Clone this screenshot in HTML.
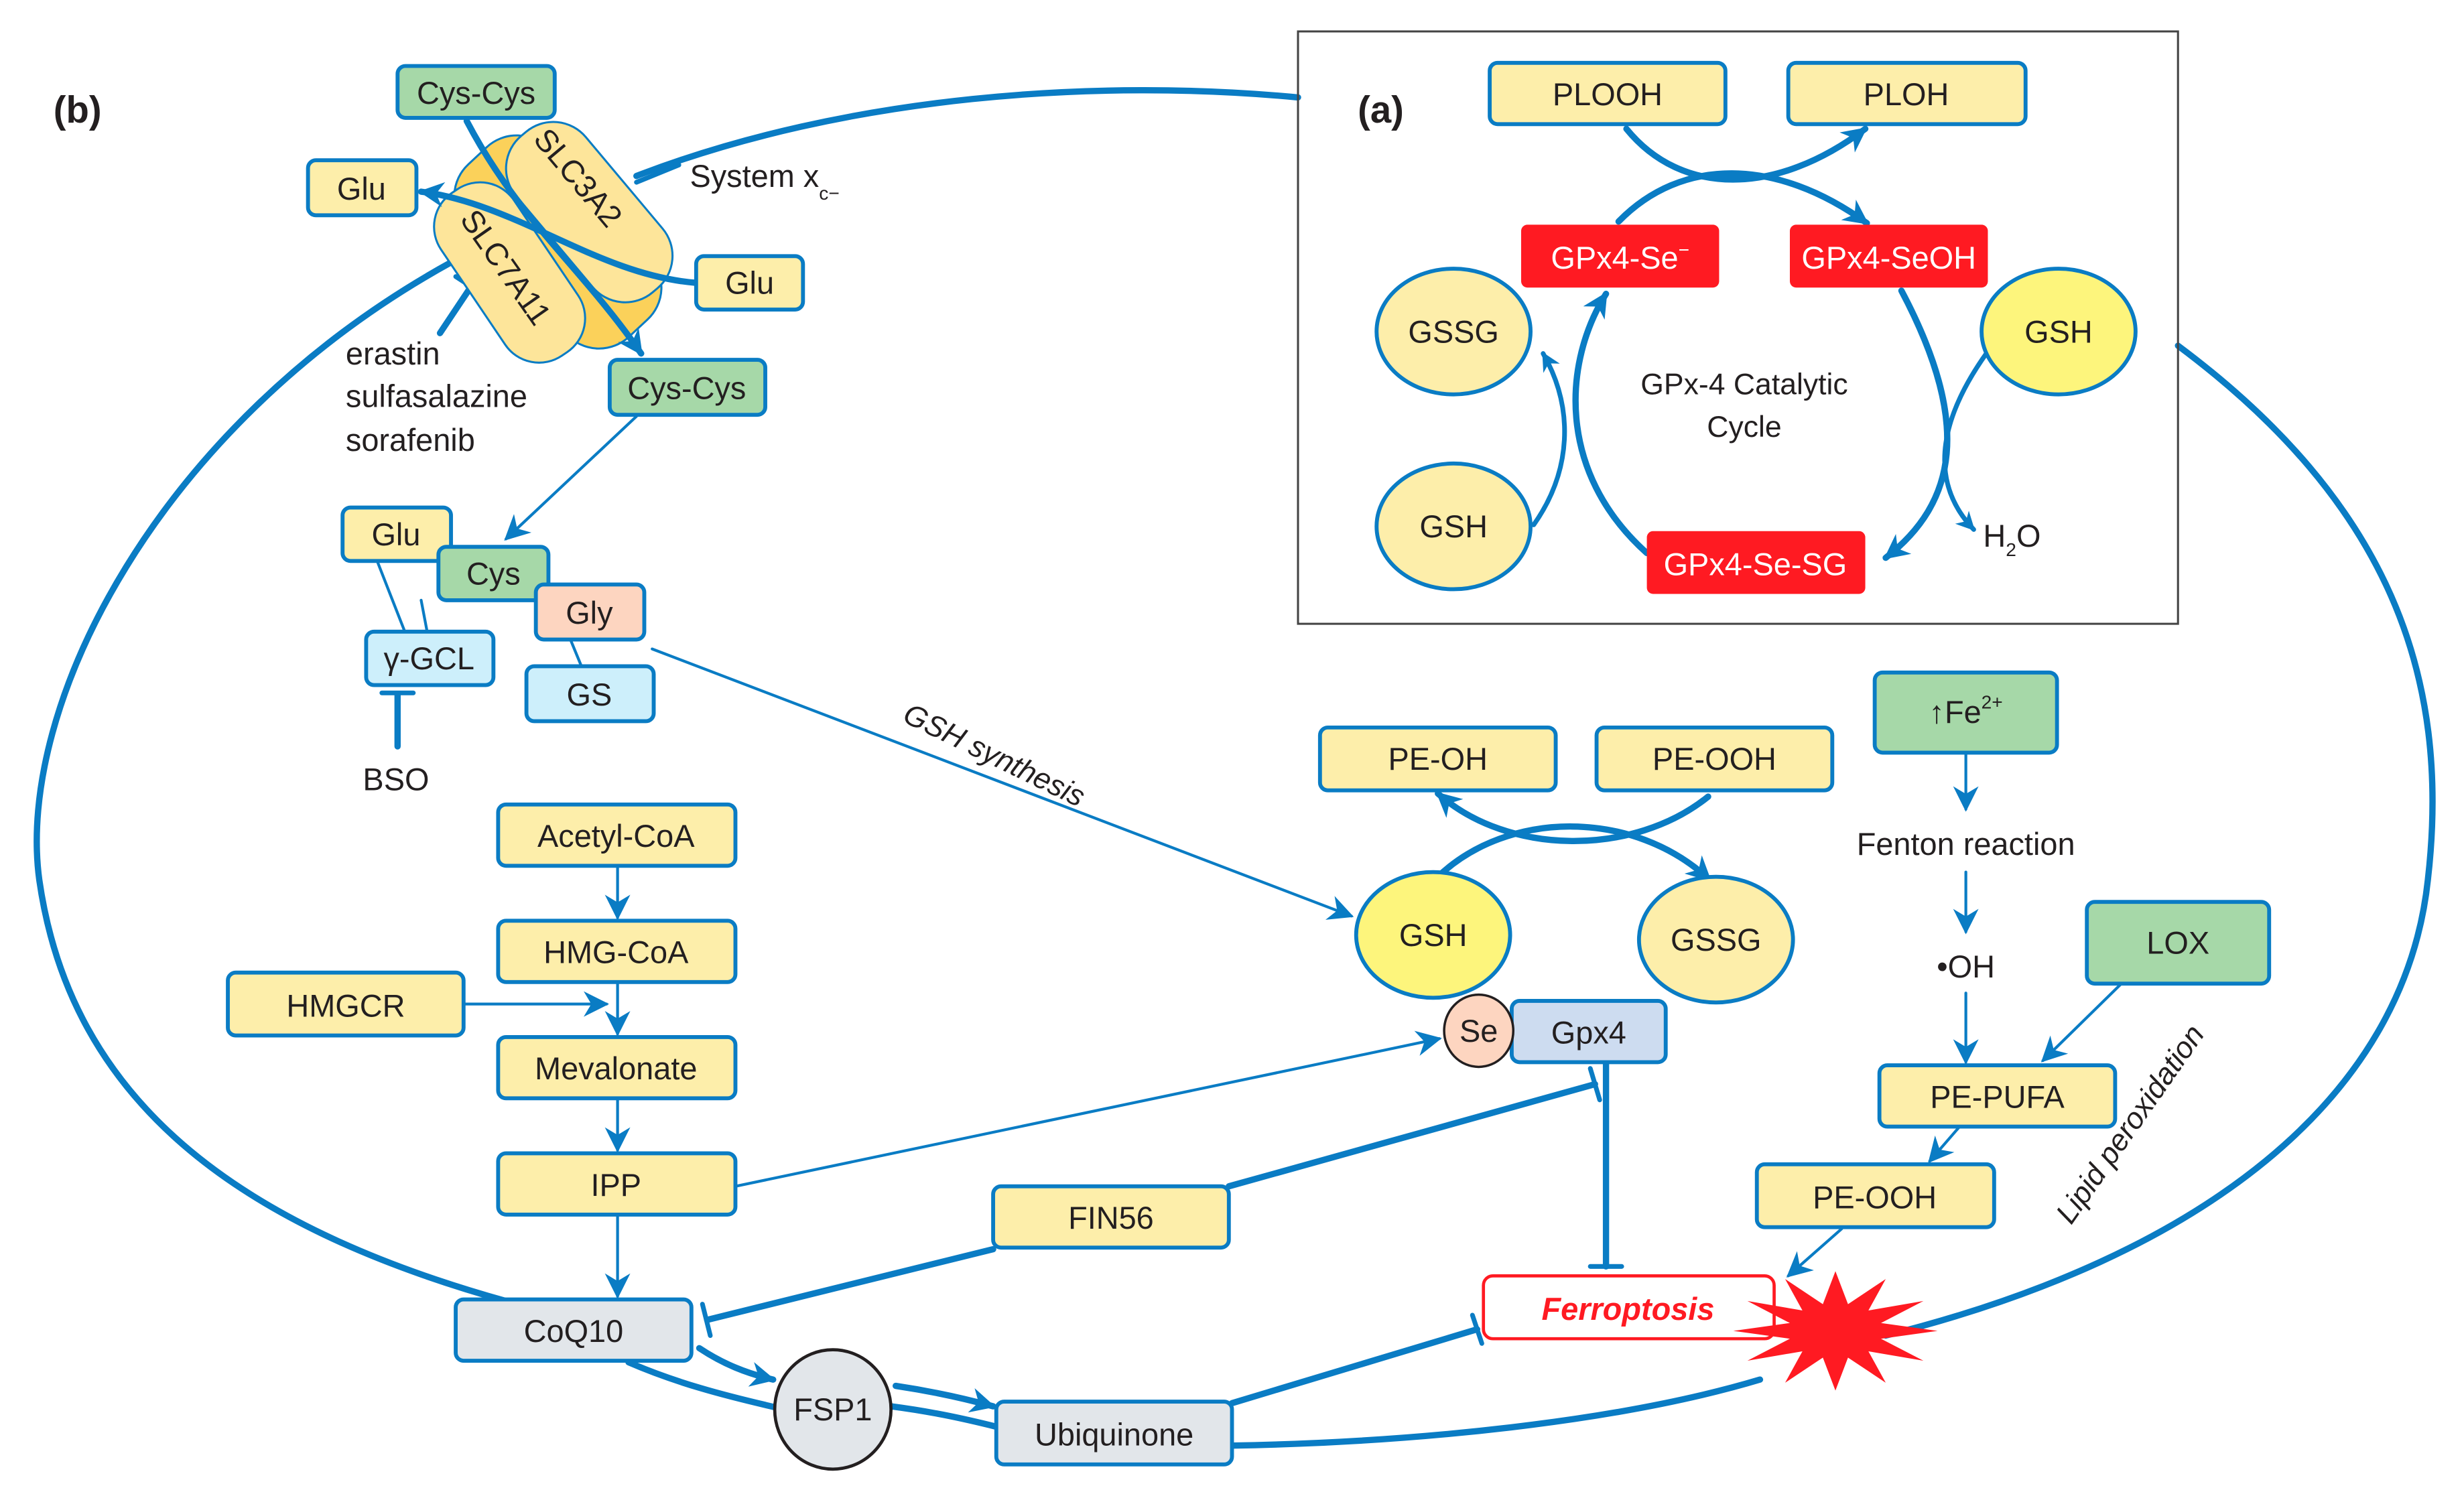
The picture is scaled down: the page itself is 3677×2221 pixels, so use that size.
<!DOCTYPE html>
<html><head><meta charset="utf-8"><style>
html,body{margin:0;padding:0;background:#fff}
svg{display:block}
text{font-family:"Liberation Sans",sans-serif;fill:#231f20}
</style></head><body>
<svg width="3677" height="2221" viewBox="0 0 1568 947" preserveAspectRatio="none" xmlns="http://www.w3.org/2000/svg">
<defs>
<marker id="a" viewBox="0 0 10 10" refX="9" refY="5" markerWidth="4" markerHeight="4" orient="auto" markerUnits="strokeWidth"><path d="M0,0 L10,5 L0,10 L3,5 z" fill="#0a7cc4"/></marker>
<marker id="as" viewBox="0 0 10 10" refX="9" refY="5" markerWidth="9" markerHeight="9" orient="auto" markerUnits="strokeWidth"><path d="M0,0 L10,5 L0,10 L3,5 z" fill="#0a7cc4"/></marker>
</defs>
<g fill="none" stroke="#0a7cc4" stroke-linecap="round">
<path d="M826,62 C700,50 540,60 405,112" stroke-width="4"/>
<path d="M287,167 C100,270 10,450 25,560 C45,700 150,780 322,828" stroke-width="4"/>
<path d="M1386,220 C1520,320 1560,430 1545,560 C1530,700 1400,800 1200,850" stroke-width="4"/>
<path d="M784,920 C900,918 1030,905 1120,878" stroke-width="4"/>
<path d="M400,867 C430,880 460,888 495,896" stroke-width="4"/>
<path d="M445,858 C460,868 475,874 492,878" stroke-width="4" marker-end="url(#a)"/>
<path d="M567,895 C590,898 610,902 634,908" stroke-width="4"/>
<path d="M570,882 C590,885 610,889 632,895" stroke-width="4" marker-end="url(#a)"/>
<path d="M784,893 L940,846" stroke-width="4"/><path d="M937,837 L943,855" stroke-width="3"/>
<path d="M632,795 L450,840" stroke-width="4"/><path d="M447,830 L452,850" stroke-width="3"/>
<path d="M782,755 L1015,690" stroke-width="4"/><path d="M1012,680 L1018,700" stroke-width="3"/>
<path d="M1022,676 L1022,806" stroke-width="4"/><path d="M1012,806 L1032,806" stroke-width="3"/>
<path d="M280,212 L300,182" stroke-width="4"/><path d="M290,176 L310,189" stroke-width="3"/>
<path d="M253,475 L253,442" stroke-width="4"/><path d="M243,441 L263,441" stroke-width="3"/>
<path d="M468,755 L916,661" stroke-width="1.8" marker-end="url(#as)"/>
<path d="M415,413 L860,583" stroke-width="1.8" marker-end="url(#as)"/>
<path d="M405,265 L322,343" stroke-width="1.8" marker-end="url(#as)"/>
<path d="M393,551 L393,584" stroke-width="1.8" marker-end="url(#as)"/>
<path d="M393,625 L393,658" stroke-width="1.8" marker-end="url(#as)"/>
<path d="M295,639 L386,639" stroke-width="1.8" marker-end="url(#as)"/>
<path d="M393,699 L393,732" stroke-width="1.8" marker-end="url(#as)"/>
<path d="M393,773 L393,825" stroke-width="1.8" marker-end="url(#as)"/>
<path d="M1251,480 L1251,515" stroke-width="1.8" marker-end="url(#as)"/>
<path d="M1251,555 L1251,593" stroke-width="1.8" marker-end="url(#as)"/>
<path d="M1251,632 L1251,676" stroke-width="1.8" marker-end="url(#as)"/>
<path d="M1350,626 L1300,675" stroke-width="1.8" marker-end="url(#as)"/>
<path d="M1247,717 L1228,739" stroke-width="1.8" marker-end="url(#as)"/>
<path d="M1172,782 L1138,812" stroke-width="1.8" marker-end="url(#as)"/>
<path d="M240,357 L258,403 M268,382 L272,403 M363,407 L370,424" stroke-width="1.8"/>
<path d="M915,558 C960,515 1040,515 1088,560" stroke-width="4" marker-end="url(#a)"/>
<path d="M1087,507 C1040,545 960,545 915,505" stroke-width="4" marker-end="url(#a)"/>
<path d="M1035,82 C1070,125 1130,125 1187,82" stroke-width="4" marker-end="url(#a)"/>
<path d="M1030,141 C1070,100 1130,100 1188,142" stroke-width="4" marker-end="url(#a)"/>
<path d="M1210,185 C1255,270 1245,320 1200,355" stroke-width="4" marker-end="url(#a)"/>
<path d="M1264,225 C1225,280 1235,315 1256,337" stroke-width="3" marker-end="url(#a)"/>
<path d="M1048,352 C990,300 995,230 1022,187" stroke-width="4" marker-end="url(#a)"/>
<path d="M976,334 C1000,300 1002,260 982,225" stroke-width="3" marker-end="url(#a)"/>
</g>
<g stroke="#0a7cc4" stroke-width="1.3">
<rect x="280" y="118" width="150" height="72" rx="28" fill="#fbd15a" transform="rotate(47 355 154)"/>
<rect x="310" y="106" width="130" height="58" rx="27" fill="#fde59a" transform="rotate(50 375 135)"/>
<rect x="262" y="145" width="125" height="56" rx="26" fill="#fde59a" transform="rotate(56 324 173)"/>
</g>
<g fill="none" stroke="#0a7cc4" stroke-linecap="round">
<path d="M297,77 C330,140 370,170 408,225" stroke-width="4" marker-end="url(#a)"/>
<path d="M443,180 C380,175 330,130 268,122" stroke-width="4" marker-end="url(#a)"/>
<path d="M432,105 L405,116" stroke-width="3"/>
</g>
<text x="368" y="120" font-size="20" text-anchor="middle" transform="rotate(50 368 113)">SLC3A2</text>
<text x="322" y="177" font-size="20" text-anchor="middle" transform="rotate(55 322 170)">SLC7A11</text>
<rect x="826" y="20" width="560" height="377" fill="none" stroke="#444" stroke-width="1.3"/>
<g stroke="#0a7cc4" stroke-width="2.5">
<rect x="948" y="40" width="150" height="39" rx="5" fill="#fdeeaa"/>
<rect x="1138" y="40" width="151" height="39" rx="5" fill="#fdeeaa"/>
<ellipse cx="925" cy="211" rx="49" ry="40" fill="#fdeeaa"/>
<ellipse cx="1310" cy="211" rx="49" ry="40" fill="#fdf57c"/>
<ellipse cx="925" cy="335" rx="49" ry="40" fill="#fdeeaa"/>
<rect x="253" y="42" width="100" height="33" rx="5" fill="#a6d8a8"/>
<rect x="196" y="102" width="69" height="35" rx="5" fill="#fdeeaa"/>
<rect x="443" y="163" width="68" height="34" rx="5" fill="#fdeeaa"/>
<rect x="388" y="229" width="99" height="35" rx="5" fill="#a6d8a8"/>
<rect x="218" y="323" width="69" height="34" rx="5" fill="#fdeeaa"/>
<rect x="279" y="348" width="70" height="34" rx="5" fill="#a6d8a8"/>
<rect x="341" y="372" width="69" height="35" rx="5" fill="#fdd5c0"/>
<rect x="233" y="402" width="81" height="34" rx="5" fill="#cdeffb"/>
<rect x="335" y="424" width="81" height="35" rx="5" fill="#cdeffb"/>
<rect x="317" y="512" width="151" height="39" rx="5" fill="#fdeeaa"/>
<rect x="317" y="586" width="151" height="39" rx="5" fill="#fdeeaa"/>
<rect x="145" y="619" width="150" height="40" rx="5" fill="#fdeeaa"/>
<rect x="317" y="660" width="151" height="39" rx="5" fill="#fdeeaa"/>
<rect x="317" y="734" width="151" height="39" rx="5" fill="#fdeeaa"/>
<rect x="632" y="755" width="150" height="39" rx="5" fill="#fdeeaa"/>
<rect x="290" y="827" width="150" height="39" rx="5" fill="#e2e6ea"/>
<rect x="634" y="892" width="150" height="40" rx="5" fill="#e2e6ea"/>
<rect x="840" y="463" width="150" height="40" rx="5" fill="#fdeeaa"/>
<rect x="1016" y="463" width="150" height="40" rx="5" fill="#fdeeaa"/>
<ellipse cx="912" cy="595" rx="49" ry="40" fill="#fdf57c"/>
<ellipse cx="1092" cy="598" rx="49" ry="40" fill="#fdeeaa"/>
<rect x="962" y="637" width="98" height="39" rx="5" fill="#cddcf0"/>
<rect x="1193" y="428" width="116" height="51" rx="5" fill="#a6d8a8"/>
<rect x="1328" y="574" width="116" height="52" rx="5" fill="#a6d8a8"/>
<rect x="1196" y="678" width="150" height="39" rx="5" fill="#fdeeaa"/>
<rect x="1118" y="741" width="151" height="40" rx="5" fill="#fdeeaa"/>
</g>
<ellipse cx="941" cy="656" rx="22" ry="23" fill="#fdd5c0" stroke="#231f20" stroke-width="1.5"/>
<ellipse cx="530" cy="897" rx="37" ry="38" fill="#e2e6ea" stroke="#231f20" stroke-width="2"/>
<rect x="968" y="143" width="126" height="40" rx="4" fill="#ff1a22"/>
<rect x="1139" y="143" width="126" height="40" rx="4" fill="#ff1a22"/>
<rect x="1048" y="338" width="139" height="40" rx="4" fill="#ff1a22"/>
<rect x="944" y="812" width="185" height="40" rx="6" fill="#fff" stroke="#ff1a22" stroke-width="2"/>
<polygon fill="#ff1a22" points="1233,847 1197,852 1224,866 1189,860 1200,880 1176,864 1168,885 1160,864 1136,880 1147,860 1112,866 1139,852 1103,847 1139,842 1112,828 1147,834 1136,814 1160,830 1168,809 1176,830 1200,814 1189,834 1224,828 1197,842"/>
<g font-size="20" text-anchor="middle">
<text x="1023" y="67">PLOOH</text><text x="1213" y="67">PLOH</text>
<text x="925" y="218">GSSG</text><text x="1310" y="218">GSH</text><text x="925" y="342">GSH</text>
<text x="303" y="66">Cys-Cys</text><text x="230" y="127">Glu</text><text x="477" y="187">Glu</text>
<text x="437" y="254">Cys-Cys</text><text x="252" y="347">Glu</text><text x="314" y="372">Cys</text>
<text x="375" y="397">Gly</text><text x="273" y="426">γ-GCL</text><text x="375" y="449">GS</text>
<text x="392" y="539">Acetyl-CoA</text><text x="392" y="613">HMG-CoA</text><text x="220" y="647">HMGCR</text>
<text x="392" y="687">Mevalonate</text><text x="392" y="761">IPP</text><text x="707" y="782">FIN56</text>
<text x="365" y="854">CoQ10</text><text x="530" y="904">FSP1</text><text x="709" y="920">Ubiquinone</text>
<text x="915" y="490">PE-OH</text><text x="1091" y="490">PE-OOH</text>
<text x="912" y="602">GSH</text><text x="1092" y="605">GSSG</text>
<text x="941" y="663">Se</text><text x="1011" y="664">Gpx4</text>
<text x="1251" y="460">↑Fe<tspan font-size="12" dy="-9">2+</tspan></text>
<text x="1251" y="544">Fenton reaction</text><text x="1251" y="622">•OH</text>
<text x="1386" y="607">LOX</text><text x="1271" y="705">PE-PUFA</text><text x="1193" y="769">PE-OOH</text>
<text x="252" y="503">BSO</text>
<text x="1110" y="251" font-size="19">GPx-4 Catalytic</text><text x="1110" y="278" font-size="19">Cycle</text>
</g>
<g font-size="20" text-anchor="middle">
<text x="1031" y="171" style="fill:#fff">GPx4-Se<tspan font-size="12" dy="-8" style="fill:#fff">−</tspan></text>
<text x="1202" y="171" style="fill:#fff">GPx4-SeOH</text>
<text x="1117" y="366" style="fill:#fff">GPx4-Se-SG</text>
</g>
<text x="1036" y="840" font-size="20" font-weight="bold" font-style="italic" text-anchor="middle" style="fill:#ff1a22">Ferroptosis</text>
<text x="1262" y="348" font-size="20">H<tspan font-size="12" dy="6">2</tspan><tspan dy="-6">O</tspan></text>
<text x="439" y="119" font-size="20">System  x<tspan font-size="12" dy="8">c−</tspan></text>
<g font-size="20"><text x="220" y="232">erastin</text><text x="220" y="259">sulfasalazine</text><text x="220" y="287">sorafenib</text></g>
<text x="34" y="78" font-size="24" font-weight="bold">(b)</text>
<text x="864" y="78" font-size="24" font-weight="bold">(a)</text>
<text x="633" y="487" font-size="19" font-style="italic" text-anchor="middle" transform="rotate(26 633 480)">GSH synthesis</text>
<text x="1355" y="722" font-size="19" font-style="italic" text-anchor="middle" transform="rotate(-55 1355 715)">Lipid peroxidation</text>
</svg>
</body></html>
